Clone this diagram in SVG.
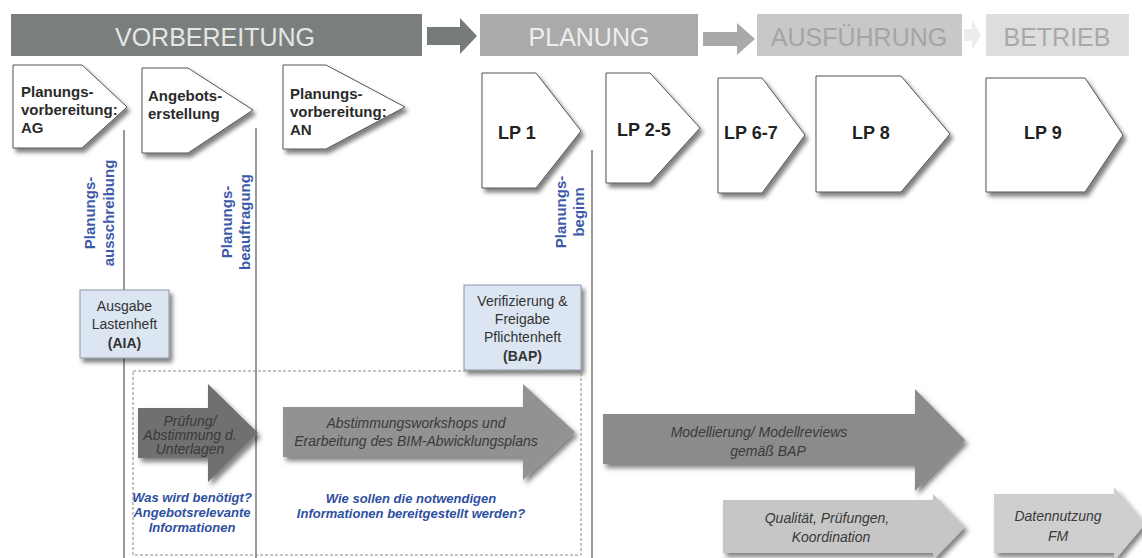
<svg xmlns="http://www.w3.org/2000/svg" width="1142" height="558" viewBox="0 0 1142 558">
  <defs>
    <filter id="shadow" x="-10%" y="-10%" width="130%" height="135%">
      <feDropShadow dx="3" dy="4" stdDeviation="2.2" flood-color="#000" flood-opacity="0.5"/>
    </filter>
    <filter id="shadowArrow" x="-10%" y="-10%" width="130%" height="140%">
      <feDropShadow dx="3" dy="4" stdDeviation="2.5" flood-color="#000" flood-opacity="0.5"/>
    </filter>
    <style>
      .band-txt { font-family: "Liberation Sans", Arial, sans-serif; font-size: 25px; text-anchor: middle; }
      .node { fill: #ffffff; stroke: #555555; stroke-width: 1; filter: url(#shadow); }
      .node-txt { font-family: "Liberation Sans", Arial, sans-serif; font-size: 15px; font-weight: bold; fill: #2a2a2a; }
      .lp-txt { font-family: "Liberation Sans", Arial, sans-serif; font-size: 18px; font-weight: bold; fill: #222222; }
      .milestone { stroke: #555555; stroke-width: 1.2; fill: none; }
      .ms-txt { font-family: "Liberation Sans", Arial, sans-serif; font-size: 15px; font-weight: bold; fill: #3d5aa8; text-anchor: middle; }
      .doc { fill: #dce6f2; stroke: #8a98ab; stroke-width: 1; filter: url(#shadow); }
      .doc-txt { font-family: "Liberation Sans", Arial, sans-serif; font-size: 14px; fill: #333333; text-anchor: middle; }
      .act-txt { font-family: "Liberation Sans", Arial, sans-serif; font-size: 14px; font-style: italic; fill: #3a3a3a; text-anchor: middle; }
      .q-txt { font-family: "Liberation Sans", Arial, sans-serif; font-size: 13px; font-style: italic; font-weight: bold; fill: #2f4f9f; text-anchor: middle; }
    </style>
  </defs>

  <rect width="1142" height="558" fill="#ffffff"/>

  <!-- phase bands -->
  <g id="phases">
    <rect x="11" y="14" width="411" height="42" fill="#7a7f7e"/>
    <text class="band-txt" x="215" y="46" fill="#e6e6e6">VORBEREITUNG</text>
    <path d="M427 27 H460 V18 L477 36 L460 54 V45 H427 Z" fill="#767a79"/>
    <rect x="480" y="14" width="218" height="42" fill="#aaaaaa"/>
    <text class="band-txt" x="589" y="46" fill="#eeeeee">PLANUNG</text>
    <path d="M703 32 H737 V23 L755 39 L737 55 V46 H703 Z" fill="#a9a9a9"/>
    <rect x="757" y="14" width="205" height="42" fill="#c8c8c8"/>
    <text class="band-txt" x="859" y="46" fill="#a5a5a5">AUSFÜHRUNG</text>
    <path d="M964 29 H972 V20 L981 35 L972 50 V41 H964 Z" fill="#ececec"/>
    <rect x="986" y="14" width="143" height="42" fill="#dddddd"/>
    <text class="band-txt" x="1057" y="46" fill="#a9a9a9">BETRIEB</text>
  </g>

  <!-- milestone lines -->
  <g id="connectors">
    <line class="milestone" x1="124" y1="130" x2="124" y2="558"/>
    <line class="milestone" x1="256" y1="128" x2="256" y2="558"/>
    <line class="milestone" x1="592" y1="150" x2="592" y2="558"/>
  </g>

  <!-- step nodes -->
  <g id="node-ag">
    <path class="node" d="M13 65 H82 L127 107 L82 148 H13 Z"/>
    <text class="node-txt" x="21" y="97">Planungs-</text>
    <text class="node-txt" x="21" y="115">vorbereitung:</text>
    <text class="node-txt" x="21" y="133">AG</text>
  </g>
  <g id="node-angebot">
    <path class="node" d="M142 68 H188 L253 110 L188 153 H142 Z"/>
    <text class="node-txt" x="148" y="101">Angebots-</text>
    <text class="node-txt" x="148" y="119">erstellung</text>
  </g>
  <g id="node-an">
    <path class="node" d="M283 65 H326 L405 107 L326 149 H283 Z"/>
    <text class="node-txt" x="290" y="99">Planungs-</text>
    <text class="node-txt" x="290" y="117">vorbereitung:</text>
    <text class="node-txt" x="290" y="135">AN</text>
  </g>
  <g id="node-lp1">
    <path class="node" d="M482 73 H536 L581 131 L536 188 H482 Z"/>
    <text class="lp-txt" x="498" y="139">LP 1</text>
  </g>
  <g id="node-lp2-5">
    <path class="node" d="M606 73 H650 L700 128 L650 183 H606 Z"/>
    <text class="lp-txt" x="617" y="136">LP 2-5</text>
  </g>
  <g id="node-lp6-7">
    <path class="node" d="M718 78 H762 L805 135 L762 193 H718 Z"/>
    <text class="lp-txt" x="724" y="139">LP 6-7</text>
  </g>
  <g id="node-lp8">
    <path class="node" d="M816 76 H901 L950 134 L901 192 H816 Z"/>
    <text class="lp-txt" x="852" y="139">LP 8</text>
  </g>
  <g id="node-lp9">
    <path class="node" d="M986 78 H1085 L1123 135 L1085 192 H986 Z"/>
    <text class="lp-txt" x="1024" y="139">LP 9</text>
  </g>

  <!-- milestone labels -->
  <g id="ms-ausschreibung">
    <text class="ms-txt" transform="translate(95 213) rotate(-90)">Planungs-</text>
    <text class="ms-txt" transform="translate(114 213) rotate(-90)">ausschreibung</text>
  </g>
  <g id="ms-beauftragung">
    <text class="ms-txt" transform="translate(232 222) rotate(-90)">Planungs-</text>
    <text class="ms-txt" transform="translate(250 222) rotate(-90)">beauftragung</text>
  </g>
  <g id="ms-beginn">
    <text class="ms-txt" transform="translate(566 212) rotate(-90)">Planungs-</text>
    <text class="ms-txt" transform="translate(584 212) rotate(-90)">beginn</text>
  </g>

  <!-- documents -->
  <g id="doc-lastenheft">
    <rect class="doc" x="80" y="290" width="89" height="68"/>
    <text class="doc-txt" x="124.5" y="311">Ausgabe</text>
    <text class="doc-txt" x="124.5" y="329">Lastenheft</text>
    <text class="doc-txt" x="124.5" y="348" font-weight="bold" font-size="15">(AIA)</text>
  </g>
  <g id="doc-pflichtenheft">
    <rect class="doc" x="464" y="285" width="117" height="85"/>
    <text class="doc-txt" x="522.5" y="306">Verifizierung &amp;</text>
    <text class="doc-txt" x="522.5" y="324">Freigabe</text>
    <text class="doc-txt" x="522.5" y="342">Pflichtenheft</text>
    <text class="doc-txt" x="522.5" y="361" font-weight="bold" font-size="15">(BAP)</text>
  </g>

  <!-- pre-planning frame -->
  <g id="frame-vorbereitung">
    <rect x="133" y="371" width="448" height="184" fill="none" stroke="#8a8a8a" stroke-width="1" stroke-dasharray="3 2"/>
  </g>

  <!-- activity arrows -->
  <g id="act-pruefung">
    <path d="M138 408 H208 V384 L258 433 L208 482 V458 H138 Z" fill="#707070" filter="url(#shadowArrow)"/>
    <text class="act-txt" x="190" y="426">Prüfung/</text>
    <text class="act-txt" x="190" y="440">Abstimmung d.</text>
    <text class="act-txt" x="190" y="454">Unterlagen</text>
  </g>
  <g id="act-workshops">
    <path d="M283 407 H523 V384 L575 432 L523 480 V457 H283 Z" fill="#929292" filter="url(#shadowArrow)"/>
    <text class="act-txt" x="416" y="428">Abstimmungsworkshops und</text>
    <text class="act-txt" x="416" y="446">Erarbeitung des BIM-Abwicklungsplans</text>
  </g>
  <g id="act-modellierung">
    <path d="M603 414 H915 V389 L965 440 L915 491 V464 H603 Z" fill="#8b8b8b" filter="url(#shadowArrow)"/>
    <text class="act-txt" x="759" y="437">Modellierung/ Modellreviews</text>
    <text class="act-txt" x="768" y="456">gemäß BAP</text>
  </g>
  <g id="act-qualitaet">
    <path d="M723 500 H933 V494 L965 527 L933 560 V553 H723 Z" fill="#c6c6c6" filter="url(#shadowArrow)"/>
    <text class="act-txt" x="827" y="523">Qualität, Prüfungen,</text>
    <text class="act-txt" x="831" y="542">Koordination</text>
  </g>
  <g id="act-datennutzung">
    <path d="M994 494 H1114 V487 L1145 524 L1114 561 V553 H994 Z" fill="#cfcfcf" filter="url(#shadowArrow)"/>
    <text class="act-txt" x="1058" y="521">Datennutzung</text>
    <text class="act-txt" x="1058" y="541">FM</text>
  </g>

  <!-- guiding questions -->
  <g id="q-angebot">
    <text class="q-txt" x="192" y="502">Was wird benötigt?</text>
    <text class="q-txt" x="192" y="517">Angebotsrelevante</text>
    <text class="q-txt" x="192" y="532">Informationen</text>
  </g>
  <g id="q-bereitstellung">
    <text class="q-txt" x="411" y="503">Wie sollen die notwendigen</text>
    <text class="q-txt" x="411" y="518">Informationen bereitgestellt werden?</text>
  </g>
</svg>
